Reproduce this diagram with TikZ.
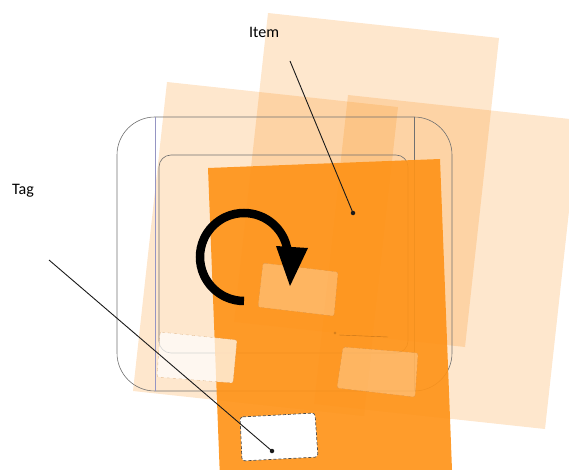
\documentclass[tikz,border=0pt]{standalone}
\usepackage{fontspec}
\setmainfont{Carlito}
\usetikzlibrary{arrows.meta}
\definecolor{sheetorange}{HTML}{FA901A}
\definecolor{frontorange}{HTML}{FF9419}
\definecolor{framegray}{HTML}{707070}
\definecolor{tagdash}{HTML}{C98A4A}
\definecolor{leaderblack}{HTML}{1A1A1A}

\begin{document}
\begin{tikzpicture}[
  x=1pt, y=-1pt,
  font=\fontsize{16}{18}\selectfont,
  sheet/.style={fill=sheetorange, fill opacity=0.22},
  frontsheet/.style={fill=frontorange, fill opacity=0.92},
  frame/.style={draw=framegray, line width=0.6pt},
  patch/.style={
    fill=white,
    fill opacity=#1,
    draw=tagdash,
    draw opacity=0.5,
    dashed,
    line width=0.4pt,
    rounded corners=2pt
  },
  tagpatch/.style={
    fill=white,
    draw=black!70,
    dash pattern=on 3pt off 2pt,
    line width=0.7pt,
    rounded corners=3pt
  },
  leader/.style={draw=leaderblack, line width=0.9pt},
  dot/.style={circle, fill=leaderblack, inner sep=0pt, minimum size=4.5pt}
]
  \useasboundingbox (0,0) rectangle (569,470);

  \begin{scope}
    \clip (0,0) rectangle (569,470);

    % --- back sheets ---
    \path[sheet] (268,13) -- (499,38) -- (465,347) -- (234,322) -- cycle;
    \path[sheet] (167,82) -- (398,107) -- (364,416) -- (133,391) -- cycle;
    \path[sheet] (348,95) -- (579,120) -- (545,429) -- (314,404) -- cycle;

    % --- reader tray outline ---
    \draw[frame] (117,117) [rounded corners=38pt] rectangle (452,391);
    \draw[frame, draw=framegray!70!blue!60, line width=0.4pt] (155,117) -- (155,391);
    \draw[frame, line width=0.4pt] (414,117) -- (414,391);
    \draw[frame] (159,155) [rounded corners=12pt] rectangle (408,353);

    % --- front sheet ---
    \path[frontsheet] (208,168) -- (440,159) -- (452,470) -- (220,479) -- cycle;
    \draw[frontorange!55!black, line width=0.4pt, opacity=0.5]
      (335,333) circle (1.2) (339,335) -- (388,337);

    % --- tag patches seen through ---
    \path[patch=0.28] (263,263) -- (338,272) -- (334,316) -- (258,307) -- cycle;
    \path[patch=0.7] (160,332) -- (237,340) -- (233,383) -- (157,377) -- cycle;
    \path[patch=0.28] (343,347) -- (418,353) -- (415,397) -- (337,388) -- cycle;
    \path[tagpatch] (240,417) -- (315,413) -- (318,457) -- (242,461) -- cycle;
  \end{scope}

  % Rotation arrow
  \draw[line width=8.5pt] (244,301) arc[start angle=90, end angle=352, radius=44];
  \fill (276,246) -- (308,248) -- (290,286) -- cycle;

  % Labels and leaders
  \node[anchor=base west, inner sep=0pt] (itemlabel) at (249,38) {Item};
  \node[anchor=base west, inner sep=0pt] (taglabel) at (12,194) {Tag};

  \coordinate (itemstart) at (290,61);
  \node[dot] (itemdot) at (353,213) {};
  \draw[leader] (itemstart) -- (itemdot.center);

  \coordinate (tagstart) at (49,260);
  \node[dot] (tagdot) at (272,451) {};
  \draw[leader] (tagstart) -- (tagdot.center);
\end{tikzpicture}
\end{document}
